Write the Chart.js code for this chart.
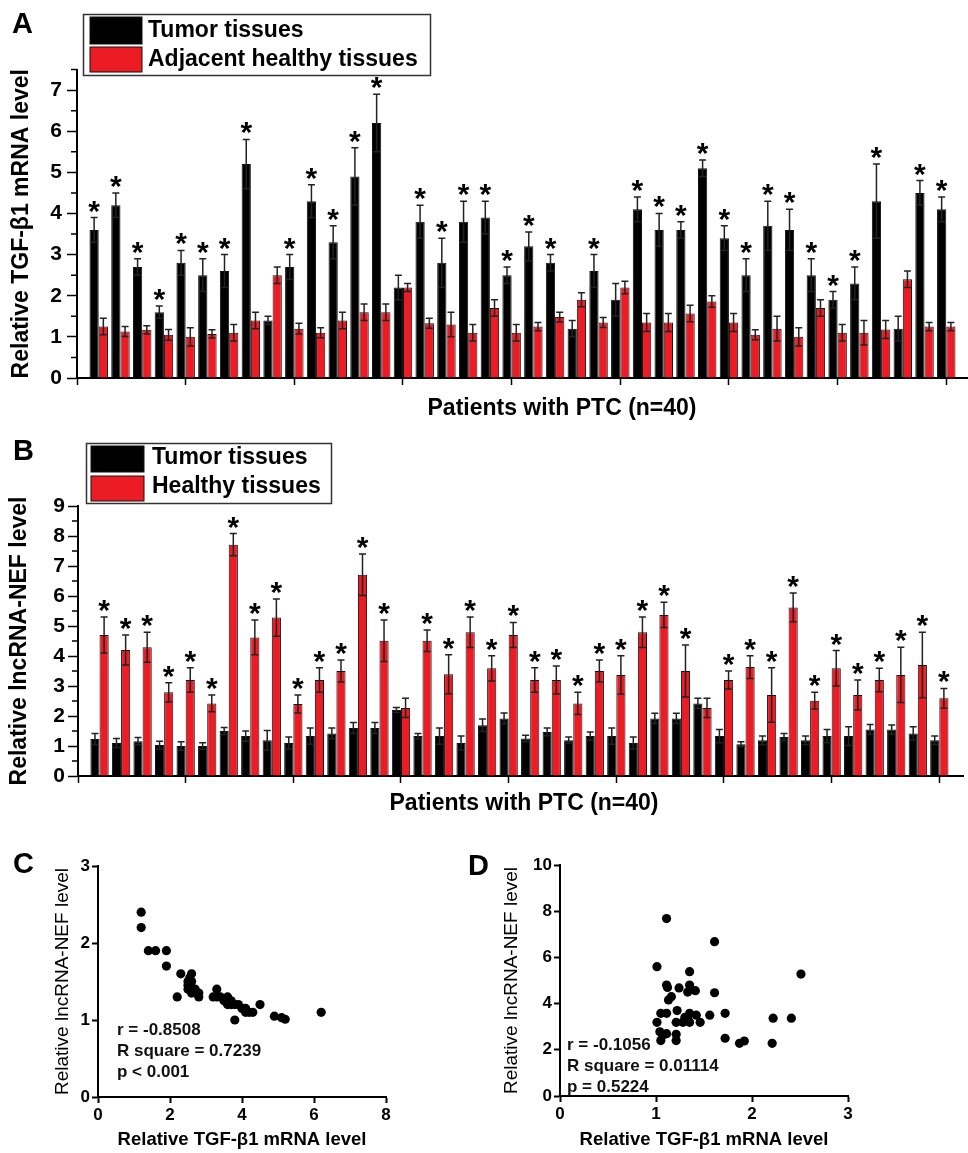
<!DOCTYPE html>
<html>
<head>
<meta charset="utf-8">
<script src="https://cdn.jsdelivr.net/npm/chart.js@4.4.1/dist/chart.umd.min.js"></script>
<style>
  html, body { margin: 0; padding: 0; background: #fff; }
  body { width: 968px; height: 1153px; position: relative; overflow: hidden; }
  canvas { position: absolute; }
</style>
</head>
<body>
<canvas id="chartA" width="968" height="420" style="left:0;top:0"></canvas>
<canvas id="chartB" width="968" height="390" style="left:0;top:425px"></canvas>
<canvas id="chartC" width="470" height="323" style="left:0;top:830px"></canvas>
<canvas id="chartD" width="508" height="323" style="left:460px;top:830px"></canvas>
<script>
// ---- data ----
const patients = [1, 2, 3, 4, 5, 6, 7, 8, 9, 10, 11, 12, 13, 14, 15, 16, 17, 18, 19, 20,
  21, 22, 23, 24, 25, 26, 27, 28, 29, 30, 31, 32, 33, 34, 35, 36, 37, 38, 39, 40];

// Panel A: TGF-beta1 mRNA
const tgfTumor = [3.6, 4.2, 2.7, 1.6, 2.8, 2.5, 2.6, 5.2, 1.4, 2.7, 4.3, 3.3, 4.9, 6.2, 2.2, 3.8, 2.8, 3.8, 3.9, 2.5,
  3.2, 2.8, 1.2, 2.6, 1.9, 4.1, 3.6, 3.6, 5.1, 3.4, 2.5, 3.7, 3.6, 2.5, 1.9, 2.3, 4.3, 1.2, 4.5, 4.1];
const tgfTumorErr = [0.3, 0.3, 0.2, 0.15, 0.3, 0.4, 0.4, 0.6, 0.1, 0.3, 0.4, 0.4, 0.7, 0.7, 0.3, 0.4, 0.6, 0.5, 0.4, 0.2,
  0.35, 0.2, 0.2, 0.4, 0.4, 0.3, 0.4, 0.2, 0.2, 0.3, 0.4, 0.6, 0.5, 0.4, 0.2, 0.4, 0.9, 0.3, 0.3, 0.3];
const tgfAdjacent = [1.25, 1.13, 1.17, 1.05, 1.0, 1.07, 1.1, 1.4, 2.5, 1.2, 1.1, 1.4, 1.6, 1.6, 2.2, 1.33, 1.3, 1.1, 1.7, 1.1,
  1.25, 1.48, 1.9, 1.35, 2.2, 1.35, 1.35, 1.57, 1.86, 1.35, 1.05, 1.2, 1.0, 1.7, 1.1, 1.1, 1.18, 2.4, 1.25, 1.25];
const tgfAdjacentErr = [0.2, 0.12, 0.1, 0.13, 0.22, 0.1, 0.2, 0.2, 0.2, 0.13, 0.12, 0.2, 0.2, 0.2, 0.1, 0.12, 0.3, 0.2, 0.2, 0.2,
  0.1, 0.12, 0.17, 0.12, 0.15, 0.22, 0.22, 0.2, 0.14, 0.22, 0.12, 0.3, 0.22, 0.2, 0.2, 0.3, 0.22, 0.2, 0.1, 0.1];
const notSignificantA = [9, 15, 23, 25, 38];

// Panel B: lncRNA-NEF
const nefTumor = [1.23, 1.1, 1.16, 1.03, 1.0, 1.0, 1.5, 1.33, 1.19, 1.1, 1.33, 1.42, 1.6, 1.6, 2.2, 1.33, 1.33, 1.1, 1.69, 1.92,
  1.25, 1.47, 1.19, 1.33, 1.33, 1.1, 1.92, 1.92, 2.42, 1.33, 1.06, 1.19, 1.3, 1.19, 1.33, 1.33, 1.55, 1.55, 1.42, 1.19];
const nefTumorErr = [0.19, 0.15, 0.12, 0.13, 0.14, 0.11, 0.12, 0.17, 0.33, 0.2, 0.27, 0.18, 0.18, 0.18, 0.08, 0.09, 0.27, 0.23, 0.21, 0.18,
  0.11, 0.13, 0.11, 0.14, 0.27, 0.2, 0.17, 0.17, 0.17, 0.22, 0.08, 0.14, 0.12, 0.14, 0.22, 0.31, 0.17, 0.15, 0.22, 0.14];
const nefHealthy = [4.7, 4.2, 4.29, 2.79, 3.2, 2.42, 7.71, 4.62, 5.28, 2.4, 3.2, 3.5, 6.71, 4.51, 2.27, 4.51, 3.39, 4.79, 3.59, 4.7,
  3.2, 3.2, 2.42, 3.5, 3.37, 4.79, 5.37, 3.5, 2.27, 3.2, 3.63, 2.7, 5.62, 2.51, 3.59, 2.7, 3.2, 3.37, 3.7, 2.59];
const nefHealthyErr = [0.6, 0.5, 0.5, 0.32, 0.41, 0.28, 0.37, 0.58, 0.62, 0.3, 0.41, 0.37, 0.69, 0.69, 0.32, 0.36, 0.65, 0.51, 0.42, 0.42,
  0.41, 0.47, 0.37, 0.37, 0.64, 0.51, 0.42, 0.87, 0.32, 0.3, 0.38, 0.91, 0.48, 0.28, 0.59, 0.5, 0.39, 0.92, 1.09, 0.33];
const notSignificantB = [15, 29];

// Panel C: tumor TGF-beta1 vs lncRNA-NEF
const corrCx = [1.2, 1.2, 1.4, 1.6, 1.9, 1.9, 2.2, 2.3, 2.5, 2.5, 2.5, 2.6, 2.6, 2.6, 2.7, 2.8, 2.8, 3.2, 3.3, 3.3,
  3.4, 3.5, 3.6, 3.6, 3.7, 3.7, 3.8, 3.8, 3.9, 4.0, 4.1, 4.1, 4.2, 4.3, 4.5, 4.9, 5.1, 5.2, 6.2, 2.55];
const corrCy = [2.4, 2.2, 1.9, 1.9, 1.9, 1.7, 1.3, 1.6, 1.5, 1.45, 1.4, 1.6, 1.5, 1.35, 1.4, 1.35, 1.3, 1.3, 1.4, 1.3,
  1.3, 1.25, 1.3, 1.2, 1.25, 1.2, 1.2, 1.0, 1.2, 1.15, 1.1, 1.15, 1.1, 1.1, 1.2, 1.05, 1.03, 1.01, 1.1, 1.55];
const statsC = ['r = -0.8508', 'R square = 0.7239', 'p < 0.001'];

// Panel D: healthy TGF-beta1 vs lncRNA-NEF
const corrDx = [1.11, 1.61, 1.01, 1.35, 2.51, 1.11, 1.12, 1.24, 1.35, 1.33, 1.41, 1.61, 1.16, 1.13, 1.05, 1.11, 1.22, 1.35, 1.42, 1.56,
  1.72, 1.01, 1.21, 1.28, 1.35, 1.46, 1.33, 2.22, 2.41, 1.04, 1.11, 1.21, 1.05, 1.21, 1.72, 1.87, 1.92, 2.21, 1.07, 1.30];
const corrDy = [7.68, 6.68, 5.6, 5.38, 5.28, 4.8, 4.7, 4.68, 4.8, 4.5, 4.56, 4.47, 4.3, 4.16, 3.58, 3.58, 3.7, 3.58, 3.5, 3.5,
  3.58, 3.19, 3.19, 3.19, 3.19, 3.19, 3.37, 3.37, 3.37, 2.78, 2.7, 2.67, 2.4, 2.4, 2.5, 2.28, 2.38, 2.28, 2.63, 3.4];
const statsD = ['r = -0.1056', 'R square = 0.01114', 'p = 0.5224'];

// ---- style ----
const FONT = '"Liberation Sans", Arial, Helvetica, sans-serif';
const RED = '#ec1c24';
Chart.defaults.font.family = FONT;
Chart.defaults.color = '#000';

const toPoints = (xs, ys) => xs.map((x, i) => ({ x: x, y: ys[i] }));

// error bars + significance stars, positioned with the chart's own scales
const errorBars = {
  id: 'errorBars',
  afterDatasetsDraw(chart) {
    const ctx = chart.ctx;
    const yScale = chart.scales.y;
    chart.data.datasets.forEach((ds, di) => {
      if (!ds.errors) return;
      const meta = chart.getDatasetMeta(di);
      meta.data.forEach((bar, i) => {
        const v = ds.data[i].y;
        const e = ds.errors[i];
        const top = yScale.getPixelForValue(v + e);
        const bot = yScale.getPixelForValue(v - e);
        ctx.save();
        ctx.strokeStyle = '#222';
        ctx.lineWidth = 1.5;
        ctx.beginPath();
        ctx.moveTo(bar.x, top); ctx.lineTo(bar.x, bot);
        ctx.moveTo(bar.x - 3.5, top); ctx.lineTo(bar.x + 3.5, top);
        ctx.moveTo(bar.x - 3.5, bot); ctx.lineTo(bar.x + 3.5, bot);
        ctx.stroke();
        if (ds.stars && ds.stars[i]) {
          ctx.fillStyle = '#000';
          ctx.font = 'bold 30px ' + FONT;
          ctx.textAlign = 'center';
          ctx.textBaseline = 'alphabetic';
          ctx.fillText('*', bar.x, top + 3);
        }
        ctx.restore();
      });
    });
  }
};

// half-step minor ticks on the y axis of the bar panels
const minorTicks = {
  id: 'minorTicks',
  afterDraw(chart) {
    const y = chart.scales.y;
    const ctx = chart.ctx;
    ctx.save();
    ctx.strokeStyle = '#000';
    ctx.lineWidth = 1.5;
    ctx.beginPath();
    for (let v = 0.5; v <= y.max + 1e-6; v += 1) {
      const py = y.getPixelForValue(v);
      ctx.moveTo(y.right - 6, py); ctx.lineTo(y.right, py);
    }
    ctx.stroke();
    ctx.restore();
  }
};

// panel letter, boxed legend, free titles and stats text
function decor(o) {
  return {
    id: 'decor',
    afterDraw(chart) {
      const ctx = chart.ctx;
      ctx.save();
      ctx.fillStyle = '#000';
      ctx.textAlign = 'left';
      ctx.textBaseline = 'alphabetic';
      ctx.font = 'bold 29px ' + FONT;
      ctx.fillText(o.letter, o.letterX, o.letterY);

      if (o.legend) {
        const L = o.legend;
        ctx.fillStyle = '#fff';
        ctx.fillRect(L.x, L.y, L.w, L.h);
        ctx.strokeStyle = '#333';
        ctx.lineWidth = 1.5;
        ctx.strokeRect(L.x, L.y, L.w, L.h);
        ctx.font = 'bold 23px ' + FONT;
        ctx.textBaseline = 'middle';
        chart.data.datasets.forEach((ds, i) => {
          const r = L.rows[i];
          ctx.fillStyle = ds.backgroundColor;
          ctx.fillRect(L.sx, r[0], L.sw, r[1]);
          ctx.strokeStyle = '#111';
          ctx.lineWidth = 1;
          ctx.strokeRect(L.sx, r[0], L.sw, r[1]);
          ctx.fillStyle = '#000';
          ctx.fillText(ds.label, L.tx, r[2]);
        });
      }

      if (o.xTitle) {
        ctx.font = 'bold 23px ' + FONT;
        ctx.textAlign = 'center';
        ctx.textBaseline = 'middle';
        ctx.fillStyle = '#000';
        ctx.fillText(o.xTitle.text, o.xTitle.x, o.xTitle.y);
      }

      if (o.stats) {
        ctx.font = 'bold 17px ' + FONT;
        ctx.textAlign = 'left';
        ctx.textBaseline = 'middle';
        ctx.fillStyle = '#111';
        o.stats.lines.forEach((t, i) => ctx.fillText(t, o.stats.x, o.stats.y + i * 21));
      }
      ctx.restore();
    }
  };
}

function barOptions(cfg) {
  return {
    responsive: false,
    animation: false,
    layout: { padding: { top: cfg.top, right: cfg.right, left: 0, bottom: 0 } },
    plugins: { legend: { display: false }, tooltip: { enabled: false } },
    scales: {
      x: {
        type: 'linear',
        min: 0,
        max: cfg.xMax,
        offset: false,
        ticks: { stepSize: 5, includeBounds: false, display: false },
        grid: { offset: false, drawOnChartArea: false, drawTicks: true, tickLength: 7, color: '#000', tickWidth: 1.5 },
        border: { display: true, color: '#000', width: 2 },
        afterFit: s => { s.height = cfg.xHeight; }
      },
      y: {
        min: 0,
        max: cfg.yMax,
        ticks: { stepSize: 1, includeBounds: false, padding: cfg.tickPad, color: '#000', font: { size: 21, weight: 'bold' } },
        grid: { drawOnChartArea: false, drawTicks: true, tickLength: 10, color: '#000', tickWidth: 1.5 },
        border: { display: true, color: '#000', width: 2 },
        title: { display: true, text: cfg.yTitle, color: '#000', font: { size: 23, weight: 'bold', lineHeight: 1.2 }, padding: { top: cfg.titlePad, bottom: 0 } },
        afterFit: s => { s.width = cfg.yWidth; }
      }
    }
  };
}

function barSet(label, values, errors, color, stars) {
  return {
    label: label,
    data: toPoints(patients, values),
    errors: errors,
    stars: stars,
    backgroundColor: color,
    borderColor: '#111',
    borderWidth: 1,
    categoryPercentage: 0.85,
    barPercentage: 1.0
  };
}

const starsA = patients.map(p => !notSignificantA.includes(p));
const starsB = patients.map(p => !notSignificantB.includes(p));

// ---- A ----
new Chart(document.getElementById('chartA'), {
  type: 'bar',
  data: {
    datasets: [
      barSet('Tumor tissues', tgfTumor, tgfTumorErr, '#000', starsA),
      barSet('Adjacent healthy tissues', tgfAdjacent, tgfAdjacentErr, RED, null)
    ]
  },
  options: barOptions({ top: 69.5, right: 0, xMax: 41, xHeight: 42, yMax: 7.5, yWidth: 77, tickPad: 5, titlePad: 8,
    yTitle: 'Relative TGF-β1 mRNA level' }),
  plugins: [errorBars, minorTicks, decor({
    letter: 'A', letterX: 12, letterY: 33,
    legend: { x: 83.5, y: 14.5, w: 347, h: 61, sx: 90, sw: 52, tx: 148,
      rows: [[17, 27, 31], [47, 25, 60]] },
    xTitle: { text: 'Patients with PTC (n=40)', x: 562, y: 409 }
  })]
});

// ---- B ----
new Chart(document.getElementById('chartB'), {
  type: 'bar',
  data: {
    datasets: [
      barSet('Tumor tissues', nefTumor, nefTumorErr, '#000', null),
      barSet('Healthy tissues', nefHealthy, nefHealthyErr, RED, starsB)
    ]
  },
  options: barOptions({ top: 81, right: 5, xMax: 41.1, xHeight: 39, yMax: 9, yWidth: 78, tickPad: 3, titlePad: 6,
    yTitle: 'Relative lncRNA-NEF level' }),
  plugins: [errorBars, minorTicks, decor({
    letter: 'B', letterX: 13, letterY: 35,
    legend: { x: 86.5, y: 18.5, w: 245, h: 60, sx: 91, sw: 53, tx: 152,
      rows: [[21, 26, 33], [51, 25, 62]] },
    xTitle: { text: 'Patients with PTC (n=40)', x: 524, y: 378.5 }
  })]
});

// ---- C / D scatter ----
function scatterOptions(cfg) {
  return {
    responsive: false,
    animation: false,
    layout: { padding: { top: cfg.top, right: cfg.right, left: 0, bottom: 0 } },
    plugins: { legend: { display: false }, tooltip: { enabled: false } },
    scales: {
      x: {
        type: 'linear', min: 0, max: cfg.xMax,
        ticks: { stepSize: cfg.xStep, padding: 2, color: '#000', font: { size: 17, weight: 'bold' } },
        grid: { drawOnChartArea: false, tickLength: 6, color: '#000', tickWidth: 2 },
        border: { display: true, color: '#000', width: 2 },
        title: { display: true, text: 'Relative TGF-β1 mRNA level', color: '#000', font: { size: 18.5, weight: 'bold', lineHeight: 1.2 }, padding: { top: 0, bottom: 2 } },
        afterFit: s => { s.height = cfg.xHeight; }
      },
      y: {
        min: 0, max: cfg.yMax,
        ticks: { stepSize: cfg.yStep, padding: 2, color: '#000', font: { size: 17, weight: 'bold' } },
        grid: { drawOnChartArea: false, tickLength: 6, color: '#000', tickWidth: 2 },
        border: { display: true, color: '#000', width: 2 },
        title: { display: true, text: 'Relative lncRNA-NEF level', color: '#000', font: { size: 19, weight: 'normal', lineHeight: 1.2 }, padding: { top: cfg.titlePad, bottom: 0 } },
        afterFit: s => { s.width = cfg.yWidth; }
      }
    }
  };
}

new Chart(document.getElementById('chartC'), {
  type: 'scatter',
  data: { datasets: [{ data: toPoints(corrCx, corrCy), backgroundColor: '#000', borderWidth: 0, pointRadius: 4.6 }] },
  options: scatterOptions({ top: 36, right: 84, xMax: 8, xStep: 2, yMax: 3, yStep: 1, xHeight: 56, yWidth: 98, titlePad: 51.6 }),
  plugins: [decor({ letter: 'C', letterX: 13, letterY: 43, stats: { x: 117, y: 200, lines: statsC } })]
});

new Chart(document.getElementById('chartD'), {
  type: 'scatter',
  data: { datasets: [{ data: toPoints(corrDx, corrDy), backgroundColor: '#000', borderWidth: 0, pointRadius: 4.6 }] },
  options: scatterOptions({ top: 35, right: 120, xMax: 3, xStep: 1, yMax: 10, yStep: 2, xHeight: 57, yWidth: 100, titlePad: 40.6 }),
  plugins: [decor({ letter: 'D', letterX: 8, letterY: 45, stats: { x: 107, y: 215, lines: statsD } })]
});
</script>
</body>
</html>
